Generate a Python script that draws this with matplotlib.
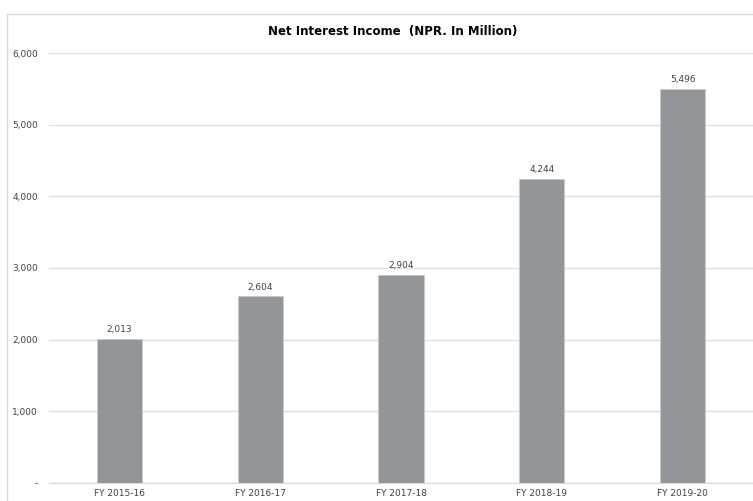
import matplotlib
matplotlib.use("Agg")
import matplotlib.pyplot as plt
from matplotlib.patches import Rectangle
from matplotlib.ticker import FuncFormatter

# データ
years = ["FY 2015-16", "FY 2016-17", "FY 2017-18", "FY 2018-19", "FY 2019-20"]
income = [2013, 2604, 2904, 4244, 5496]
title = "Net Interest Income  (NPR. In Million)"

plt.rcParams["font.family"] = ["Liberation Sans Narrow", "DejaVu Sans"]

fig = plt.figure(figsize=(7.53, 5.01), dpi=100)
ax = fig.add_axes([49 / 753, 1 - 483 / 501, 1 - 49 / 753, 430 / 501])

# グラフ外枠
fig.patches.append(Rectangle((7 / 753, -0.1), 1.2, 1 - 14 / 501 + 0.1,
                             transform=fig.transFigure, fill=False,
                             edgecolor="#d9d9d9", linewidth=1))

x = range(len(years))
ax.bar(x, income, width=0.32, color="#939598", edgecolor="#c8c9cb",
       linewidth=0.6, zorder=3)
for i, v in zip(x, income):
    ax.annotate(f"{v:,}", (i, v), xytext=(0, 3.5), textcoords="offset points",
                ha="center", va="bottom", fontsize=6.5, color="#404040")

ax.set_xlim(-0.5, len(years) - 0.5)
ax.set_ylim(0, 6000)
ax.set_yticks(range(0, 6001, 1000))
ax.yaxis.set_major_formatter(FuncFormatter(lambda v, p: "-" if v == 0 else f"{int(v):,}"))
ax.set_xticks(list(x))
ax.set_xticklabels(years)
ax.tick_params(axis="both", length=0, labelsize=6.5, colors="#404040")
ax.tick_params(axis="y", pad=8)
ax.tick_params(axis="x", pad=4)
ax.grid(axis="y", color="#e0e0e0", linewidth=1, zorder=0)
for s in ["top", "right", "left"]:
    ax.spines[s].set_visible(False)
ax.spines["bottom"].set_color("#d9d9d9")

fig.text(393 / 753, 1 - 31 / 501, title, ha="center", va="center",
         fontsize=8.5, fontweight="bold", color="#000000")

fig.savefig("out.png", dpi=100)
plt.close(fig)
